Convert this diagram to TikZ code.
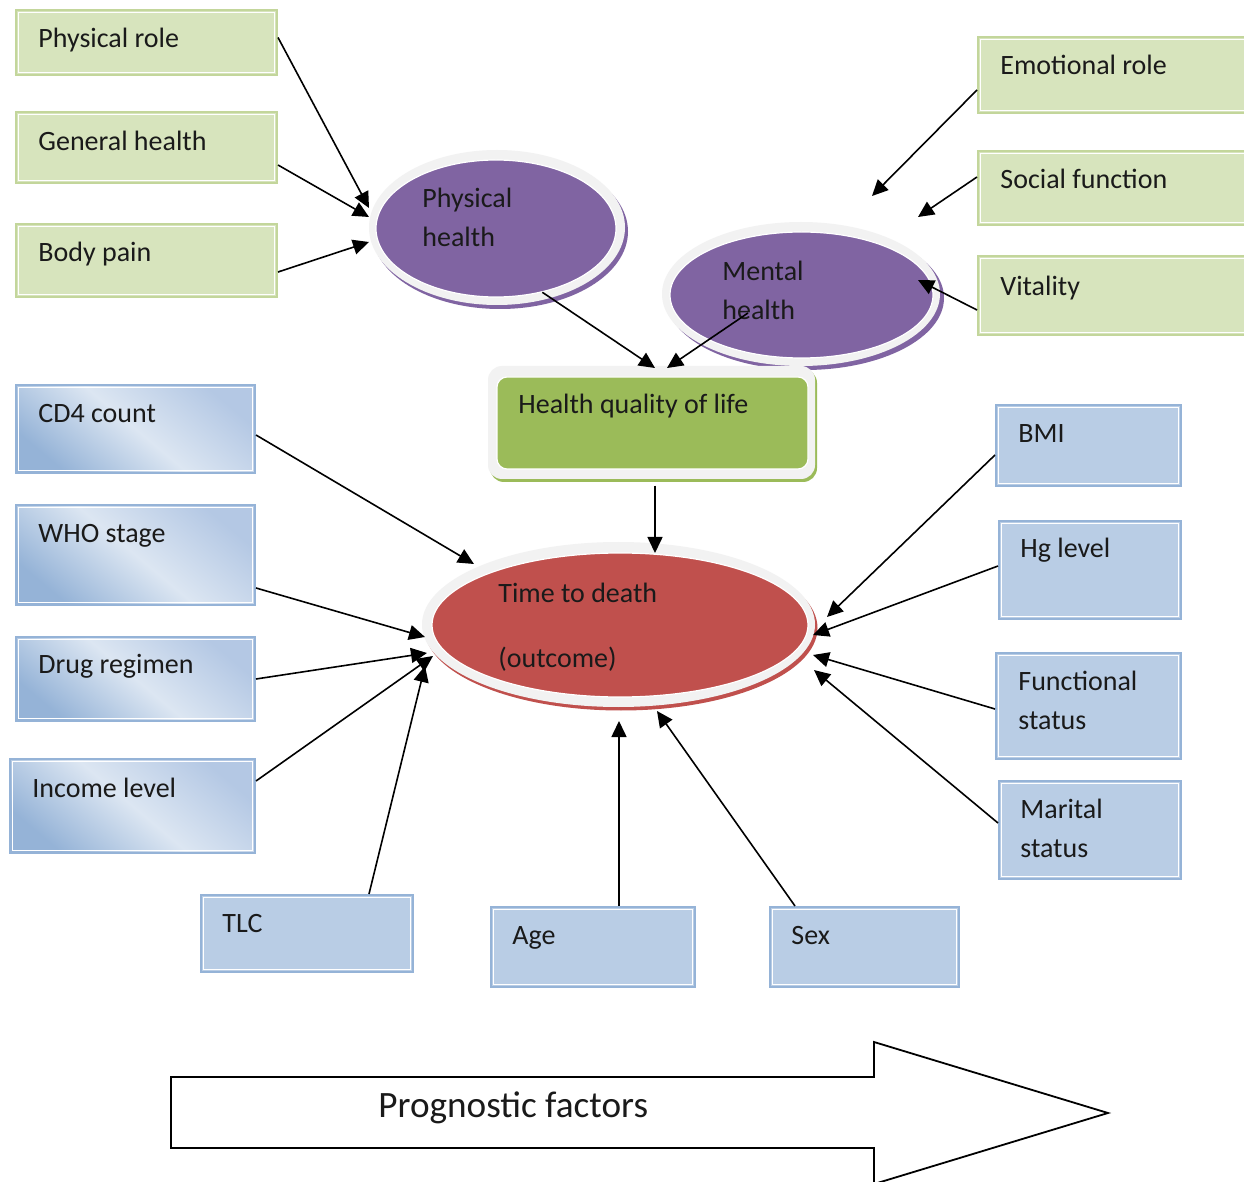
\documentclass[tikz,border=0pt]{standalone}
\usepackage{fontspec}
\setmainfont{Carlito}
\usetikzlibrary{shapes.geometric,arrows.meta,calc,fit}
\definecolor{gfill}{HTML}{D7E4BD}
\definecolor{gline}{HTML}{C3D69B}
\definecolor{pfill}{HTML}{8064A2}
\definecolor{ringc}{HTML}{F2F2F2}
\definecolor{hqfill}{HTML}{9BBB59}
\definecolor{rfill}{HTML}{C0504D}
\definecolor{bflat}{HTML}{B9CDE5}
\definecolor{bline}{HTML}{95B3D7}
\definecolor{bdark}{HTML}{95B3D7}
\definecolor{bmid}{HTML}{B4C8E4}
\definecolor{blight}{HTML}{DCE6F2}
\definecolor{txtc}{HTML}{1A1A1A}
\tikzset{
  innerframe/.style={path picture={\draw[white, line width=0.6pt]
      ([shift={(1.3pt,-1.3pt)}]path picture bounding box.north west) rectangle
      ([shift={(-1.3pt,1.3pt)}]path picture bounding box.south east);}},
  gbox/.style={rectangle, inner sep=0pt, draw=gline, line width=1pt, fill=gfill, innerframe},
  bgrad/.style={rectangle, inner sep=0pt, draw=bline, line width=1pt,
      top color=bmid, bottom color=bdark, middle color=blight, shading angle=-40, innerframe},
  bbox/.style={rectangle, inner sep=0pt, draw=bline, line width=1pt, fill=bflat, innerframe},
  txt/.style={anchor=base west, inner sep=0pt, font=\fontsize{14}{19.5}\selectfont, text=txtc},
  arr/.style={line width=0.8pt, -{Triangle[length=8pt,width=7.5pt]}},
}
\newcommand{\twoline}[2]{\begin{tabular}[t]{@{}l@{}}#1\\#2\end{tabular}}
\begin{document}
\begin{tikzpicture}[x=0.5pt,y=-0.5pt]
\fill[white] (0,0) rectangle (1244,1182);
\useasboundingbox (0,0) rectangle (1244,1182);

% ---------- green boxes ----------
\node[gbox, fit={(16,10)(277,75)}] (physrole) {};
\node[gbox, fit={(16,112)(277,183)}] (genhealth) {};
\node[gbox, fit={(16,224)(277,297)}] (bodypain) {};
\node[gbox, fit={(978,37)(1262,113)}] (emorole) {};
\node[gbox, fit={(978,151)(1262,225)}] (socfunc) {};
\node[gbox, fit={(978,256)(1262,335)}] (vitality) {};
\node[txt] (physrole-t) at (38,48) {Physical role};
\node[txt] (genhealth-t) at (38,151) {General health};
\node[txt] (bodypain-t) at (38,262) {Body pain};
\node[txt] (emorole-t) at (1000,75) {Emotional role};
\node[txt] (socfunc-t) at (1000,189) {Social function};
\node[txt] (vitality-t) at (1000,296) {Vitality};

% ---------- physical health ellipse ----------
\node[ellipse, inner sep=0pt, fill=pfill, minimum width=128pt, minimum height=77.5pt] (ph-sh) at (500,231.5) {};
\node[ellipse, inner sep=0pt, fill=ringc, minimum width=128pt, minimum height=77.5pt] (ph-ring) at (497,227.5) {};
\node[ellipse, inner sep=0pt, fill=pfill, draw=white, line width=0.6pt, minimum width=120pt, minimum height=68.5pt] (ph) at (496,228.5) {};
\node[txt] (ph-t) at (422,208) {\twoline{Physical}{health}};

% ---------- mental health ellipse ----------
\node[ellipse, inner sep=0pt, fill=pfill, minimum width=139pt, minimum height=72pt] (mh-sh) at (805,298) {};
\node[ellipse, inner sep=0pt, fill=ringc, minimum width=139pt, minimum height=72pt] (mh-ring) at (801,294) {};
\node[ellipse, inner sep=0pt, fill=pfill, draw=white, line width=0.6pt, minimum width=131.5pt, minimum height=63pt] (mh) at (801.5,295) {};
\node[txt] (mh-t) at (722,281) {\twoline{Mental}{health}};

% ---------- health quality of life ----------
\node[rectangle, rounded corners=7pt, inner sep=0pt, fill=hqfill, fit={(490,369)(817,482)}] (hq-sh) {};
\node[rectangle, rounded corners=7pt, inner sep=0pt, fill=ringc, fit={(488,366)(815,479)}] (hq-ring) {};
\node[rectangle, rounded corners=5pt, inner sep=0pt, fill=hqfill, draw=white, line width=0.6pt, fit={(497,377)(808,469)}] (hq) {};
\node[txt] (hq-t) at (518,414) {Health quality of life};

% ---------- time to death ellipse ----------
\node[ellipse, inner sep=0pt, fill=rfill, minimum width=196.5pt, minimum height=82.5pt] (ttd-sh) at (621,628) {};
\node[ellipse, inner sep=0pt, fill=ringc, minimum width=196.5pt, minimum height=82.5pt] (ttd-ring) at (618.5,624.5) {};
\node[ellipse, inner sep=0pt, fill=rfill, draw=white, line width=0.6pt, minimum width=188pt, minimum height=72pt] (ttd) at (620,625) {};
\node[txt] (ttd-t) at (498,603) {\begin{tabular}[t]{@{}l@{}}Time to death\\[13pt](outcome)\end{tabular}};

% ---------- blue boxes ----------
\node[bgrad, fit={(16,385)(255,473)}] (cd4) {};
\node[bgrad, fit={(16,505)(255,605)}] (who) {};
\node[bgrad, fit={(16,637)(255,721)}] (drug) {};
\node[bgrad, fit={(10,759)(255,853)}] (income) {};
\node[bbox, fit={(201,895)(413,972)}] (tlc) {};
\node[bbox, fit={(491,907)(695,987)}] (age) {};
\node[bbox, fit={(770,907)(959,987)}] (sex) {};
\node[bbox, fit={(996,405)(1181,486)}] (bmi) {};
\node[bbox, fit={(999,521)(1181,619)}] (hg) {};
\node[bbox, fit={(996,653)(1181,759)}] (func) {};
\node[bbox, fit={(999,781)(1181,879)}] (marital) {};
\node[txt] (cd4-t) at (38,423) {CD4 count};
\node[txt] (who-t) at (38,543) {WHO stage};
\node[txt] (drug-t) at (38,673) {Drug regimen};
\node[txt] (income-t) at (32,797) {Income level};
\node[txt] (tlc-t) at (222,932) {TLC};
\node[txt] (age-t) at (512,944) {Age};
\node[txt] (sex-t) at (791,944) {Sex};
\node[txt] (bmi-t) at (1018,443) {BMI};
\node[txt] (hg-t) at (1020,558) {Hg level};
\node[txt] (func-t) at (1018,690) {\twoline{Functional}{status}};
\node[txt] (marital-t) at (1020,818) {\twoline{Marital}{status}};

% ---------- free arrow ends ----------
\coordinate (e1) at (369,208);
\coordinate (e2) at (369,217);
\coordinate (e3) at (369,242);
\coordinate (e4) at (655,368);
\coordinate (e5) at (667,368);
\coordinate (e6) at (872,196);
\coordinate (e7) at (918,217);
\coordinate (e8) at (918,280);
\coordinate (e9) at (655,553);
\coordinate (e10) at (474,564);
\coordinate (e11) at (425,637);
\coordinate (e12) at (427,653);
\coordinate (e13) at (433,656);
\coordinate (e14) at (425,666);
\coordinate (e15) at (619,721);
\coordinate (e16) at (657,711);
\coordinate (e17) at (827,617);
\coordinate (e18) at (813,635);
\coordinate (e19) at (813,655);
\coordinate (e20) at (814,670);

% ---------- connectors ----------
\draw[arr] ($(physrole.east)+(0,-5)$) -- (e1);
\draw[arr] ($(genhealth.east)+(0,17.5)$) -- (e2);
\draw[arr] ($(bodypain.east)+(0,11.5)$) -- (e3);
\draw[arr] (ph.-54) -- (e4);
\draw[arr] ($(mh.center)+(-53.5,18)$) -- (e5);
\draw[arr] ($(emorole.west)+(0,15)$) -- (e6);
\draw[arr] ($(socfunc.west)+(0,-11)$) -- (e7);
\draw[arr] ($(vitality.west)+(0,14.5)$) -- (e8);
\draw[arr] ($(hq.south)+(2.5,16)$) -- (e9);
\draw[arr] ($(cd4.east)+(0,6)$) -- (e10);
\draw[arr] ($(who.east)+(0,33)$) -- (e11);
\draw[arr] (drug.east) -- (e12);
\draw[arr] ($(income.east)+(0,-25)$) -- (e13);
\draw[arr] ($(tlc.north)+(62,0)$) -- (e14);
\draw[arr] ($(age.north)+(26,0)$) -- (e15);
\draw[arr] ($(sex.north)+(-69.5,0)$) -- (e16);
\draw[arr] ($(bmi.west)+(0,9.5)$) -- (e17);
\draw[arr] ($(hg.west)+(0,-4)$) -- (e18);
\draw[arr] ($(func.west)+(0,3)$) -- (e19);
\draw[arr] ($(marital.west)+(0,-7)$) -- (e20);

% ---------- big arrow ----------
\draw[line width=0.9pt, fill=white, line join=miter]
  (171,1077) -- (874,1077) -- (874,1042) -- (1108,1113) -- (874,1184) -- (874,1148) -- (171,1148) -- cycle;
\node[txt, font=\fontsize{18.6}{22}\selectfont] (prog-t) at (378,1117) {Prognostic factors};
\end{tikzpicture}
\end{document}
